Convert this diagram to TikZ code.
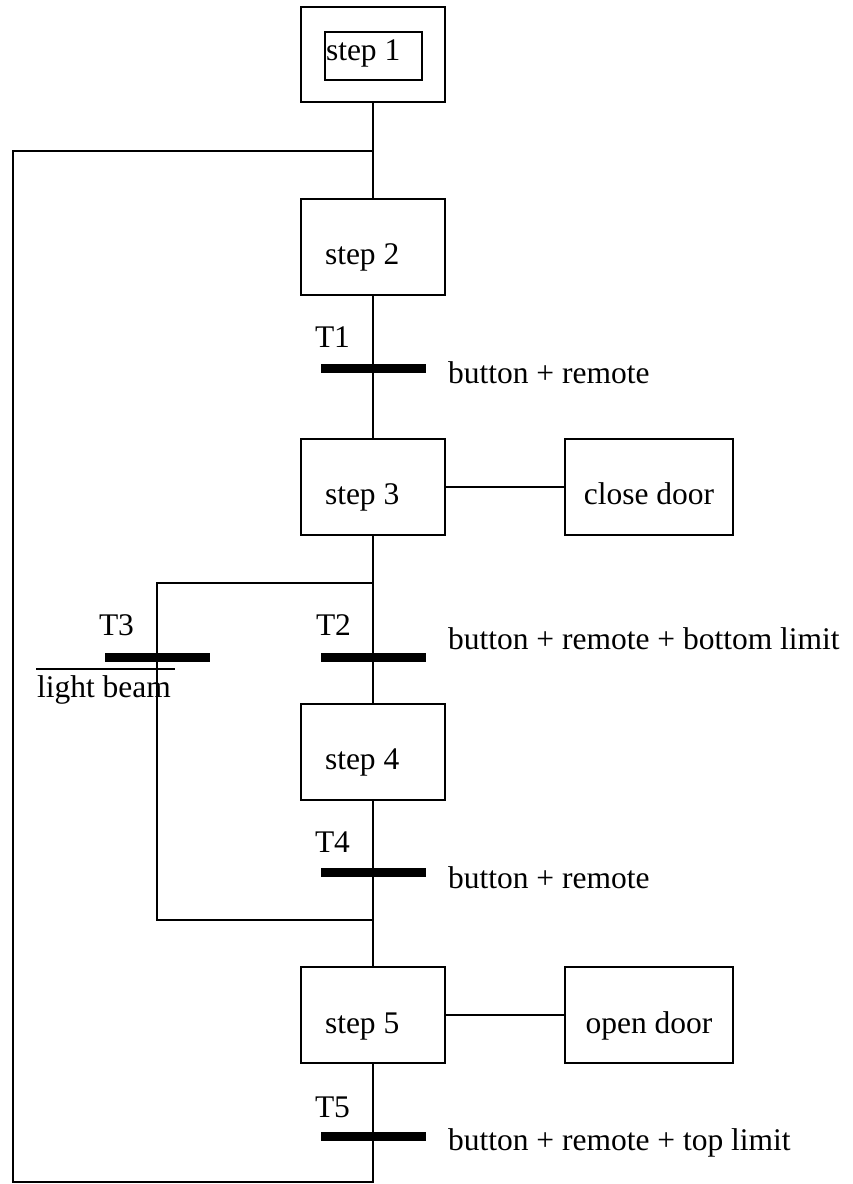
\documentclass[tikz,border=0pt]{standalone}
\usepackage{fontspec}
\setmainfont{Liberation Serif}
\tikzset{
 stepbox/.style={draw,text width=96pt,inner xsep=24pt,inner ysep=0pt,minimum height=96pt,
  align=flush left,text height=36pt,text depth=0pt},
 actbox/.style={draw,inner ysep=0pt,minimum width=168pt,minimum height=96pt,
  text height=36pt,text depth=0pt,xshift=5pt},
 trbar/.style={fill=black,inner sep=0pt,minimum width=105pt,minimum height=9pt},
 tlab/.style={anchor=base west,inner sep=0pt},
}
\begin{document}
\begin{tikzpicture}[x=1pt,y=-1pt,line width=2pt,font=\fontsize{31.5}{36}\selectfont]
\useasboundingbox (0,0) rectangle (852,1184);
% initial step
\node[draw,minimum width=144pt,minimum height=95pt] (s1) at (373,54.5) {};
\node[draw,anchor=west,text width=95pt,inner xsep=1pt,inner ysep=0pt,minimum height=48pt,
 align=flush left,text height=20pt,text depth=12pt] (s1in) at (324,56) {step 1};
% steps and actions
\node[stepbox] (s2) at (373,246.5) {step 2};
\node[stepbox] (s3) at (373,486.5) {step 3};
\node[stepbox] (s4) at (373,751.5) {step 4};
\node[stepbox] (s5) at (373,1015) {step 5};
\node[actbox] (a3) at (644,486.5) {close door};
\node[actbox] (a5) at (644,1015) {open door};
% transitions
\node[trbar] (t1) at (373.5,368) {};
\node[trbar] (t2) at (373.5,657) {};
\node[trbar] (t3) at (157,657) {};
\node[trbar] (t4) at (373.5,872) {};
\node[trbar] (t5) at (373.5,1136) {};
\node[tlab] (l1) at (314,347) {T1};
\node[tlab] (l2) at (315,635) {T2};
\node[tlab] (l3) at (98,635) {T3};
\node[tlab] (l4) at (314,852) {T4};
\node[tlab] (l5) at (314,1117) {T5};
\node[tlab] (c1) at (447,383) {button + remote};
\node[tlab] (c2) at (447,649) {button + remote + bottom limit};
\node[tlab] (c4) at (447,888) {button + remote};
\node[tlab] (c5) at (447,1150) {button + remote + top limit};
\node[anchor=base west,inner xsep=0pt,inner ysep=5pt] (c3) at (36,697) {light beam};
\draw (c3.north west) -- ([xshift=3pt]c3.north east);
% links
\coordinate (j1) at (373,151);
\coordinate (j2) at (373,583);
\coordinate (j3) at (373,920);
\coordinate (lpA) at (13,151);
\coordinate (lpB) at (13,1182);
\coordinate (lpC) at (373,1182);
\coordinate (brA) at (157,583);
\coordinate (brB) at (157,920);
\draw (s1) -- (s2);
\draw (s2) -- (s3);
\draw (s3) -- (s4);
\draw (s4) -- (s5);
\draw (s3) -- (a3);
\draw (s5) -- (a5);
\draw (j2) -- (brA) -- (brB) -- (j3);
\draw (s5) -- (lpC) -- (lpB) -- (lpA) -- (j1);
\end{tikzpicture}
\end{document}
